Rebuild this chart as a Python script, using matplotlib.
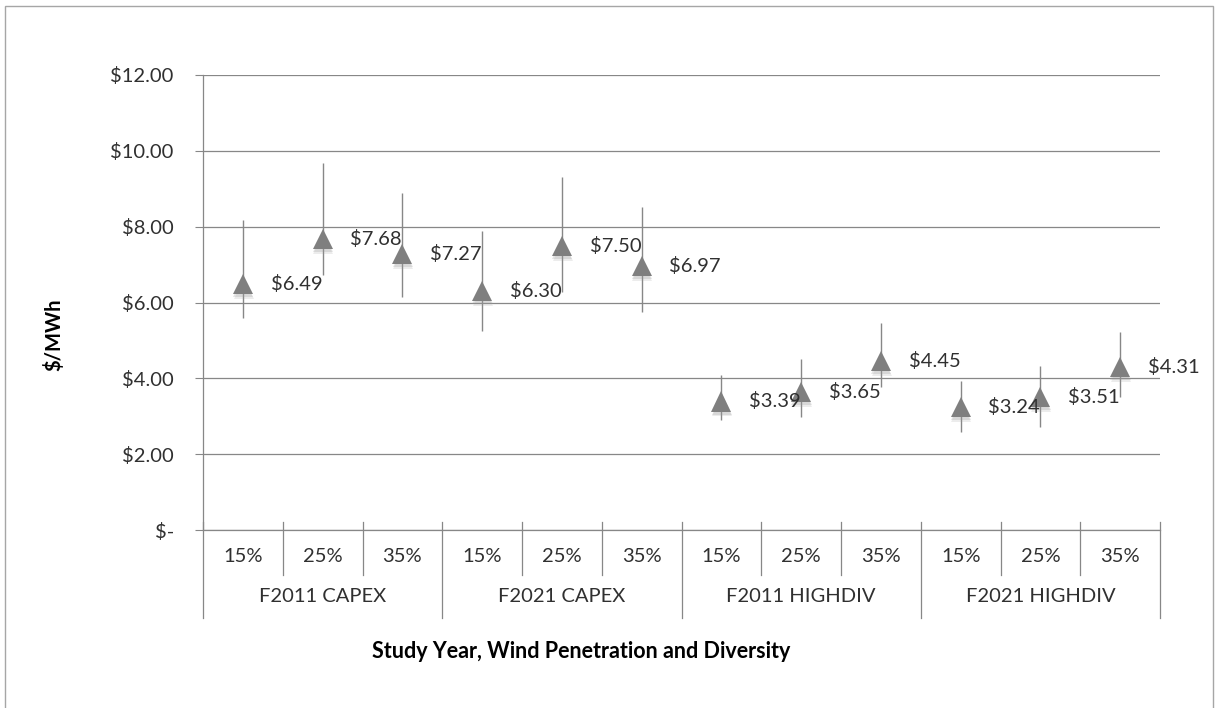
import numpy as np
import matplotlib
matplotlib.use('Agg')
import matplotlib.pyplot as plt
import matplotlib.patheffects as pe
from matplotlib.patches import Rectangle

plt.rcParams['font.family'] = ['Lato', 'DejaVu Sans']

# data
grupos = ['F2011 CAPEX', 'F2021 CAPEX', 'F2011 HIGHDIV', 'F2021 HIGHDIV']
penetracao = ['15%', '25%', '35%']
valores = [6.49, 7.68, 7.27, 6.30, 7.50, 6.97, 3.39, 3.65, 4.45, 3.24, 3.51, 4.31]
superior = [8.18, 9.68, 8.89, 7.89, 9.31, 8.52, 4.09, 4.51, 5.46, 3.93, 4.33, 5.22]
inferior = [5.59, 6.73, 6.15, 5.25, 6.28, 5.75, 2.90, 2.98, 3.77, 2.59, 2.72, 3.51]
yticks = [0, 2, 4, 6, 8, 10, 12]
ytick_labels = ['$-', '$2.00', '$4.00', '$6.00', '$8.00', '$10.00', '$12.00']

cinza = '#878787'
texto = '#303030'
tam = 14.5

fig = plt.figure(figsize=(12.15, 7.08), dpi=100)
ax = fig.add_axes([203 / 1215, 1 - 530 / 708, (1160 - 203) / 1215, (530 - 75) / 708])

x = np.arange(len(valores))
v = np.array(valores)
erro = [v - np.array(inferior), np.array(superior) - v]

ax.errorbar(x, v, yerr=erro, fmt='none', ecolor=cinza, elinewidth=1.0, capsize=0, zorder=2)
linha, = ax.plot(x, v, linestyle='none', marker='^', markersize=14.5,
                 color='#7f7f7f', markeredgewidth=0, zorder=3)
linha.set_path_effects([
    pe.SimplePatchShadow(offset=(0.5, -3.5), shadow_rgbFace='#999999', alpha=0.18),
    pe.SimplePatchShadow(offset=(0.3, -2.2), shadow_rgbFace='#999999', alpha=0.25),
    pe.Normal(),
])

for xi, vi in zip(x, valores):
    ax.annotate(f'${vi:.2f}', (xi, vi), xytext=(20, 0), textcoords='offset points',
                ha='left', va='center', fontsize=tam, color=texto)

ax.set_xlim(-0.5, len(valores) - 0.5)
ax.set_ylim(0, 12)
ax.set_yticks(yticks)
ax.set_yticklabels(ytick_labels)
ax.tick_params(axis='y', length=6, color=cinza, pad=15, labelsize=tam, labelcolor=texto)
ax.tick_params(axis='x', length=0, labelbottom=False)
ax.grid(axis='y', color=cinza, linewidth=0.9)
ax.set_axisbelow(True)
for lado in ['top', 'right']:
    ax.spines[lado].set_visible(False)
for lado in ['left', 'bottom']:
    ax.spines[lado].set_color(cinza)
    ax.spines[lado].set_linewidth(0.9)

# multi-level category axis
tr = ax.get_xaxis_transform()
for i in range(len(valores)):
    ax.text(i, -0.059, penetracao[i % 3], transform=tr, ha='center', va='center',
            fontsize=tam, color=texto)
for i in range(len(valores) + 1):
    fundo = -0.193 if i % 3 == 0 else -0.099
    ax.plot([i - 0.5, i - 0.5], [0.018, fundo], transform=tr, color=cinza,
            linewidth=0.9, clip_on=False)
for g, nome in enumerate(grupos):
    ax.text(3 * g + 1, -0.147, nome, transform=tr, ha='center', va='center',
            fontsize=tam, color=texto)

fig.text(581 / 1215, 1 - 651 / 708, 'Study Year, Wind Penetration and Diversity',
         ha='center', va='center', fontsize=15.5, fontweight='bold', color='black')
fig.text(54 / 1215, 1 - 335 / 708, '$/MWh', rotation=90, ha='center', va='center',
         fontsize=14.5, fontweight='bold', color='black')

fig.patches.append(Rectangle((5 / 1215, -0.1), 1208 / 1215, 1.1 - 6 / 708,
                             transform=fig.transFigure, fill=False,
                             edgecolor='#a6a6a6', linewidth=1.0))

fig.savefig('out.png', dpi=100, facecolor='white')
